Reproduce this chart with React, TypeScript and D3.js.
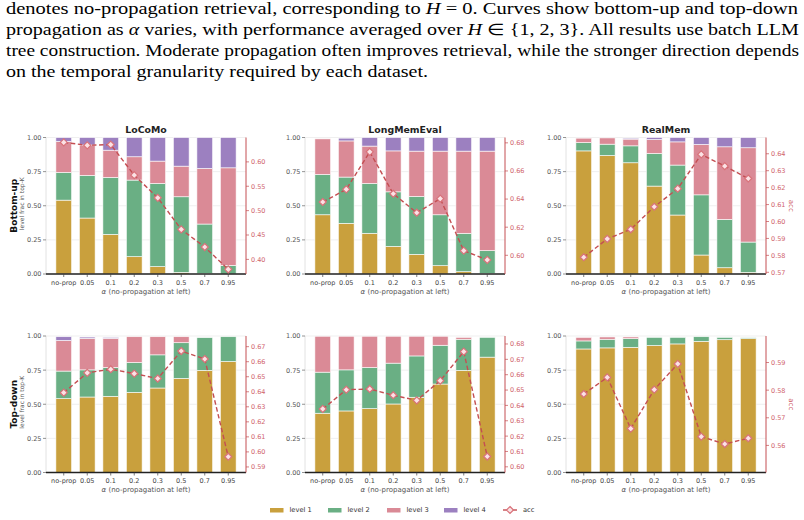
import React, { useEffect, useRef } from "react"
import * as d3 from "d3"

const alphas = ["no-prop", "0.05", "0.1", "0.2", "0.3", "0.5", "0.7", "0.95"]
const datasets = ["LoCoMo", "LongMemEval", "RealMem"]
const directions = ["Bottom-up", "Top-down"]
const levelKeys = ["level 1", "level 2", "level 3", "level 4"]
const levelColors = ["#c9a03d", "#6aaf84", "#da8a96", "#9c80c0"]
const leftTicks = [0, 0.25, 0.5, 0.75, 1]

// level fractions in top-K, one row per level
const buLoCoMo = [
	[0.541, 0.41, 0.29, 0.127, 0.054, 0.012, 0.003, 0.0],
	[0.203, 0.312, 0.417, 0.561, 0.609, 0.554, 0.363, 0.063],
	[0.227, 0.223, 0.2, 0.171, 0.164, 0.224, 0.407, 0.715],
	[0.029, 0.055, 0.093, 0.141, 0.173, 0.21, 0.227, 0.222],
]
const buLongMemEval = [
	[0.434, 0.371, 0.298, 0.202, 0.144, 0.061, 0.017, 0.003],
	[0.295, 0.339, 0.365, 0.4, 0.424, 0.373, 0.281, 0.168],
	[0.261, 0.265, 0.274, 0.3, 0.332, 0.466, 0.602, 0.729],
	[0.0, 0.02, 0.063, 0.098, 0.1, 0.1, 0.1, 0.1],
]
const buRealMem = [
	[0.902, 0.868, 0.815, 0.644, 0.432, 0.139, 0.046, 0.012],
	[0.061, 0.083, 0.124, 0.239, 0.366, 0.441, 0.354, 0.222],
	[0.032, 0.046, 0.049, 0.102, 0.17, 0.369, 0.532, 0.691],
	[0.0, 0.0, 0.007, 0.015, 0.032, 0.051, 0.068, 0.075],
]
const tdLoCoMo = [
	[0.541, 0.553, 0.558, 0.587, 0.619, 0.689, 0.748, 0.813],
	[0.202, 0.199, 0.211, 0.219, 0.243, 0.262, 0.24, 0.182],
	[0.224, 0.23, 0.214, 0.189, 0.133, 0.044, 0.0, 0.0],
	[0.028, 0.01, 0.007, 0.0, 0.0, 0.0, 0.0, 0.0],
]
const tdLongMemEval = [
	[0.434, 0.451, 0.468, 0.502, 0.551, 0.648, 0.748, 0.845],
	[0.301, 0.301, 0.301, 0.299, 0.303, 0.284, 0.228, 0.145],
	[0.263, 0.246, 0.229, 0.197, 0.144, 0.066, 0.014, 0.0],
	[0, 0, 0, 0, 0, 0, 0, 0],
]
const tdRealMem = [
	[0.905, 0.913, 0.917, 0.93, 0.942, 0.961, 0.973, 0.981],
	[0.059, 0.063, 0.064, 0.06, 0.048, 0.034, 0.017, 0.006],
	[0.026, 0.017, 0.012, 0.0, 0.0, 0.0, 0.0, 0.0],
	[0, 0, 0, 0, 0, 0, 0, 0],
]

// retrieval acc (right axis)
const accBuLoCoMo = [0.64, 0.634, 0.6355, 0.5727, 0.5263, 0.4614, 0.4253, 0.3795]
const accBuLongMemEval = [0.6379, 0.6469, 0.6736, 0.6438, 0.6303, 0.6403, 0.6033, 0.5967]
const accBuRealMem = [0.5789, 0.5897, 0.5954, 0.6087, 0.6194, 0.6396, 0.6327, 0.6254]
const accTdLoCoMo = [0.6394, 0.6526, 0.655, 0.6521, 0.6488, 0.6671, 0.6618, 0.5968]
const accTdLongMemEval = [0.6377, 0.6502, 0.6507, 0.6466, 0.6433, 0.6561, 0.675, 0.6067]
const accTdRealMem = [0.5786, 0.5846, 0.5661, 0.5802, 0.5895, 0.5632, 0.5605, 0.5626]

const accTicksBuLoCoMo = [0.4, 0.45, 0.5, 0.55, 0.6]
const accTicksBuLongMemEval = [0.6, 0.62, 0.64, 0.66, 0.68]
const accTicksBuRealMem = [0.57, 0.58, 0.59, 0.6, 0.61, 0.62, 0.63, 0.64]
const accTicksTdLoCoMo = [0.59, 0.6, 0.61, 0.62, 0.63, 0.64, 0.65, 0.66, 0.67]
const accTicksTdLongMemEval = [0.6, 0.61, 0.62, 0.63, 0.64, 0.65, 0.66, 0.67, 0.68]
const accTicksTdRealMem = [0.56, 0.57, 0.58, 0.59]

const panels = [
	{ row: 0, col: 0, levels: buLoCoMo, acc: accBuLoCoMo, ticks: accTicksBuLoCoMo, domain: [0.37, 0.65] },
	{ row: 0, col: 1, levels: buLongMemEval, acc: accBuLongMemEval, ticks: accTicksBuLongMemEval, domain: [0.5867, 0.6838] },
	{ row: 0, col: 2, levels: buRealMem, acc: accBuRealMem, ticks: accTicksBuRealMem, domain: [0.569, 0.6496] },
	{ row: 1, col: 0, levels: tdLoCoMo, acc: accTdLoCoMo, ticks: accTicksTdLoCoMo, domain: [0.5863, 0.6771] },
	{ row: 1, col: 1, levels: tdLongMemEval, acc: accTdLongMemEval, ticks: accTicksTdLongMemEval, domain: [0.5963, 0.6852] },
	{ row: 1, col: 2, levels: tdRealMem, acc: accTdRealMem, ticks: accTicksTdRealMem, domain: [0.5502, 0.5996] },
]

const ACC = "#c44e52"
const FONT = "'DejaVu Sans', sans-serif"
const TICK_FS = 6.5

const diamond = (s: number) => `M0,${-s}L${s},0L0,${s}L${-s},0Z`

function App() {
	const ref = useRef<SVGSVGElement>(null)

	useEffect(() => {
		document.body.style.margin = "0"
		const svg = d3.select(ref.current)
		svg.selectAll("*").remove()

		// caption text
		const cap = svg.append("g").style("font-family", "'Liberation Serif', serif").attr("font-size", 16).attr("fill", "#000")
		const capLines = [
			{ y: 14, len: 792, parts: [["denotes no-propagation retrieval, corresponding to ", 0], ["H", 1], [" = 0. Curves show bottom-up and top-down", 0]] },
			{ y: 35, len: 793, parts: [["propagation as ", 0], ["α", 1], [" varies, with performance averaged over ", 0], ["H", 1], [" ∈ {1, 2, 3}. All results use batch LLM", 0]] },
			{ y: 56, len: 793, parts: [["tree construction. Moderate propagation often improves retrieval, while the stronger direction depends", 0]] },
			{ y: 77, len: 422, parts: [["on the temporal granularity required by each dataset.", 0]] },
		]
		capLines.forEach(l => {
			const t = cap.append("text").attr("x", 6).attr("y", l.y).attr("textLength", l.len).attr("lengthAdjust", "spacingAndGlyphs")
			l.parts.forEach(p => {
				t.append("tspan").text(p[0] as string).attr("font-style", p[1] ? "italic" : "normal")
			})
		})

		const colX = [46, 305, 566]
		const rowY = [137.5, 336]
		const pw = 200
		const ph = 136.5

		panels.forEach(p => {
			const x0 = colX[p.col]
			const y0 = rowY[p.row]
			const g = svg.append("g").style("font-family", FONT)

			const x = d3.scalePoint().domain(alphas).range([x0, x0 + pw]).padding(0.755)
			const bw = x.step() * 0.67
			const y = d3.scaleLinear().domain([0, 1]).range([y0 + ph, y0])
			const yR = d3.scaleLinear().domain(p.domain).range([y0 + ph, y0])

			// grid
			g.selectAll("line.grid")
				.data(leftTicks)
				.enter()
				.append("line")
				.attr("x1", x0)
				.attr("x2", x0 + pw)
				.attr("y1", d => y(d))
				.attr("y2", d => y(d))
				.attr("stroke", "#ebebeb")
				.attr("stroke-width", 0.8)
			g.append("line").attr("x1", x0).attr("x2", x0).attr("y1", y0).attr("y2", y0 + ph).attr("stroke", "#e2e2e2").attr("stroke-width", 1)

			// stacked bars
			const table = alphas.map((a, i) => {
				const row: any = { alpha: a }
				levelKeys.forEach((k, j) => (row[k] = p.levels[j][i]))
				return row
			})
			const series = d3.stack().keys(levelKeys)(table)
			series.forEach((s, j) => {
				g.selectAll("rect.s" + j)
					.data(s)
					.enter()
					.append("rect")
					.attr("x", d => (x(d.data.alpha) as number) - bw / 2)
					.attr("width", bw)
					.attr("y", d => y(d[1]))
					.attr("height", d => Math.max(0, y(d[0]) - y(d[1])))
					.attr("fill", levelColors[j])
					.attr("stroke", "#fff")
					.attr("stroke-opacity", 0.85)
					.attr("stroke-width", 0.7)
			})

			// left axis
			leftTicks.forEach(t => {
				g.append("line").attr("x1", x0 - 3).attr("x2", x0).attr("y1", y(t)).attr("y2", y(t)).attr("stroke", "#666").attr("stroke-width", 0.7)
				g.append("text").attr("x", x0 - 4.5).attr("y", y(t) + 2.4).attr("text-anchor", "end").attr("font-size", TICK_FS).attr("fill", "#555").text(d3.format(".2f")(t))
			})

			// bottom axis
			g.append("line").attr("x1", x0).attr("x2", x0 + pw).attr("y1", y0 + ph).attr("y2", y0 + ph).attr("stroke", "#222").attr("stroke-width", 1.4)
			alphas.forEach(a => {
				g.append("line").attr("x1", x(a)!).attr("x2", x(a)!).attr("y1", y0 + ph).attr("y2", y0 + ph + 3).attr("stroke", "#444").attr("stroke-width", 0.7)
				g.append("text").attr("x", x(a)!).attr("y", y0 + ph + 10.5).attr("text-anchor", "middle").attr("font-size", TICK_FS).attr("fill", "#444").text(a)
			})
			const xl = g.append("text").attr("x", x0 + pw / 2).attr("y", y0 + ph + 19.5).attr("text-anchor", "middle").attr("font-size", 7).attr("fill", "#555")
			xl.append("tspan").attr("font-style", "italic").text("α")
			xl.append("tspan").text(" (no-propagation at left)")

			// right axis (acc)
			g.append("line").attr("x1", x0 + pw).attr("x2", x0 + pw).attr("y1", y0).attr("y2", y0 + ph).attr("stroke", ACC).attr("stroke-width", 1)
			p.ticks.forEach(t => {
				g.append("line").attr("x1", x0 + pw).attr("x2", x0 + pw + 3).attr("y1", yR(t)).attr("y2", yR(t)).attr("stroke", ACC).attr("stroke-width", 0.7)
				g.append("text").attr("x", x0 + pw + 5).attr("y", yR(t) + 2.4).attr("font-size", TICK_FS).attr("fill", "#d0646c").text(d3.format(".2f")(t))
			})
			if (p.col === 2) {
				g.append("text")
					.attr("transform", `translate(${x0 + pw + 23},${y0 + ph / 2}) rotate(90)`)
					.attr("text-anchor", "middle")
					.attr("font-size", 7)
					.attr("fill", "#d0646c")
					.text("acc")
			}

			// acc line
			const line = d3
				.line<number>()
				.x((d, i) => x(alphas[i])!)
				.y(d => yR(d))
			g.append("path").attr("d", line(p.acc)).attr("fill", "none").attr("stroke", ACC).attr("stroke-width", 1.4).attr("stroke-dasharray", "4.5,2.6")
			g.selectAll("path.mk")
				.data(p.acc)
				.enter()
				.append("path")
				.attr("d", diamond(3.5))
				.attr("transform", (d, i) => `translate(${x(alphas[i])},${yR(d)})`)
				.attr("fill", "#fbe2e5")
				.attr("stroke", "#d9727a")
				.attr("stroke-width", 1.2)

			if (p.row === 0) {
				g.append("text").attr("x", x0 + pw / 2).attr("y", y0 - 5).attr("text-anchor", "middle").attr("font-size", 9.4).attr("font-weight", "bold").attr("fill", "#222").text(datasets[p.col])
			}
			if (p.col === 0) {
				g.append("text")
					.attr("transform", `translate(17.2,${y0 + ph / 2}) rotate(-90)`)
					.attr("text-anchor", "middle")
					.attr("font-size", 9)
					.attr("font-weight", "bold")
					.attr("fill", "#111")
					.text(directions[p.row])
				g.append("text")
					.attr("transform", `translate(24,${y0 + ph / 2 - 2}) rotate(-90)`)
					.attr("text-anchor", "middle")
					.attr("font-size", 6)
					.attr("fill", "#555")
					.text("level frac in top-K")
			}
		})

		// legend
		const lg = svg.append("g").style("font-family", FONT).attr("font-size", 6.7).attr("fill", "#333")
		const swX = [270, 328, 387, 444]
		levelKeys.forEach((k, j) => {
			lg.append("rect").attr("x", swX[j]).attr("y", 508).attr("width", 13.5).attr("height", 4.5).attr("fill", levelColors[j])
			lg.append("text").attr("x", swX[j] + 19.5).attr("y", 512.4).text(k)
		})
		lg.append("line").attr("x1", 503).attr("x2", 517).attr("y1", 510).attr("y2", 510).attr("stroke", ACC).attr("stroke-width", 1.4)
		lg.append("path").attr("d", diamond(3.5)).attr("transform", "translate(510,510)").attr("fill", "#fbe2e5").attr("stroke", "#d9727a").attr("stroke-width", 1.2)
		lg.append("text").attr("x", 523).attr("y", 512.4).text("acc")
	}, [])

	return <svg ref={ref} width={804} height={520} style={{ display: "block", background: "#fff" }}></svg>
}

export default App
